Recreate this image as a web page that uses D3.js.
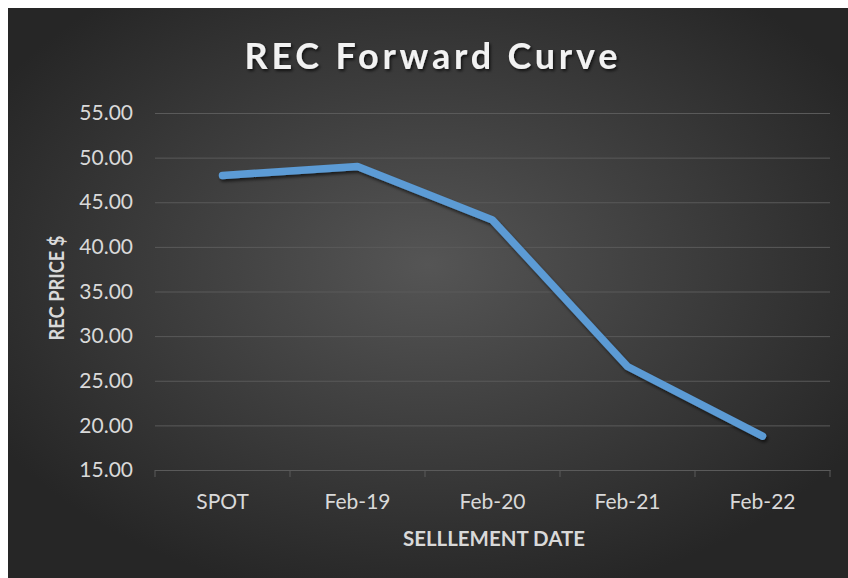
<!DOCTYPE html>
<html>
<head>
<meta charset="utf-8">
<script src="https://cdn.jsdelivr.net/npm/d3@7"></script>
<style>
  html, body { margin: 0; padding: 0; background: #fff; }
  svg { display: block; }
  text { font-family: Lato, "Open Sans", sans-serif; }
</style>
</head>
<body>
<svg id="chart" width="848" height="578"></svg>
<script>
var categories = ["SPOT", "Feb-19", "Feb-20", "Feb-21", "Feb-22"];
var prices = [48.0, 49.0, 43.0, 26.6, 18.8];
var yTicks = [15, 20, 25, 30, 35, 40, 45, 50, 55];

var svg = d3.select("#chart");
var W = 848, H = 578;
var margin = {top: 113, right: 18, bottom: 108, left: 155};
var width = W - margin.left - margin.right,
    height = H - margin.top - margin.bottom;

var defs = svg.append("defs");
var grad = defs.append("radialGradient").attr("id", "bg")
    .attr("cx", "50%").attr("cy", "45%").attr("r", "60%");
grad.append("stop").attr("offset", "0%").attr("stop-color", "#555555");
grad.append("stop").attr("offset", "100%").attr("stop-color", "#262626");

var shadow = defs.append("filter").attr("id", "shadow")
    .attr("x", "-10%").attr("y", "-10%").attr("width", "120%").attr("height", "130%");
shadow.append("feDropShadow").attr("dx", 1.5).attr("dy", 2.5)
    .attr("stdDeviation", 1.8).attr("flood-color", "#000").attr("flood-opacity", 0.6);

var tshadow = defs.append("filter").attr("id", "tshadow");
tshadow.append("feDropShadow").attr("dx", 1.5).attr("dy", 2)
    .attr("stdDeviation", 1.5).attr("flood-color", "#000").attr("flood-opacity", 0.7);

// background, white frame on top/left
svg.append("rect").attr("x", 8).attr("y", 8).attr("width", W - 8).attr("height", H - 8)
    .attr("fill", "url(#bg)");

var x = d3.scaleBand().domain(categories).range([0, width]);
var y = d3.scaleLinear().domain([15, 55]).range([height, 0]);

var g = svg.append("g").attr("transform", "translate(" + margin.left + "," + margin.top + ")");

// y axis with gridlines
var yAxis = g.append("g")
    .attr("class", "y axis")
    .call(d3.axisLeft(y).tickValues(yTicks).tickFormat(d3.format(".2f")).tickSize(-width).tickPadding(22));
yAxis.select(".domain").remove();
yAxis.selectAll(".tick line").attr("stroke", "#5a5a5a").attr("stroke-width", 1);
yAxis.selectAll(".tick text")
    .attr("fill", "#d9d9d9")
    .style("font-size", "21px");

// x axis
var xAxis = g.append("g")
    .attr("class", "x axis")
    .attr("transform", "translate(0," + height + ")")
    .call(d3.axisBottom(x).tickSize(0).tickPadding(24));
xAxis.select(".domain").attr("stroke", "#5a5a5a");
xAxis.selectAll(".tick text")
    .attr("fill", "#d9d9d9")
    .style("font-size", "21px");

// category boundary ticks
var bounds = categories.map(function(d) { return x(d); }).concat([width]);
xAxis.selectAll(".bound")
    .data(bounds)
  .enter().append("line")
    .attr("class", "bound")
    .attr("x1", function(d) { return d; })
    .attr("x2", function(d) { return d; })
    .attr("y1", 0).attr("y2", 7)
    .attr("stroke", "#5a5a5a");

// line
var line = d3.line()
    .x(function(d, i) { return x(categories[i]) + x.bandwidth() / 2; })
    .y(function(d) { return y(d); });

g.append("path")
    .datum(prices)
    .attr("fill", "none")
    .attr("stroke", "#5b9bd5")
    .attr("stroke-width", 7.5)
    .attr("stroke-linecap", "round")
    .attr("stroke-linejoin", "round")
    .attr("filter", "url(#shadow)")
    .attr("d", line);

// title
svg.append("text")
    .attr("x", 431).attr("y", 69)
    .attr("text-anchor", "middle")
    .attr("fill", "#f2f2f2")
    .attr("filter", "url(#tshadow)")
    .attr("textLength", 373)
    .attr("lengthAdjust", "spacing")
    .style("font-size", "36px")
    .style("font-weight", 700)
    .text("REC Forward Curve");

// axis titles
svg.append("text")
    .attr("transform", "translate(64,288) rotate(-90)")
    .attr("text-anchor", "middle")
    .attr("fill", "#d9d9d9")
    .attr("textLength", 105)
    .attr("lengthAdjust", "spacingAndGlyphs")
    .style("font-size", "21px")
    .style("font-weight", 700)
    .text("REC PRICE $");

svg.append("text")
    .attr("x", 494).attr("y", 546)
    .attr("text-anchor", "middle")
    .attr("fill", "#d9d9d9")
    .attr("textLength", 182)
    .attr("lengthAdjust", "spacingAndGlyphs")
    .style("font-size", "21px")
    .style("font-weight", 700)
    .text("SELLLEMENT DATE");
</script>
</body>
</html>
